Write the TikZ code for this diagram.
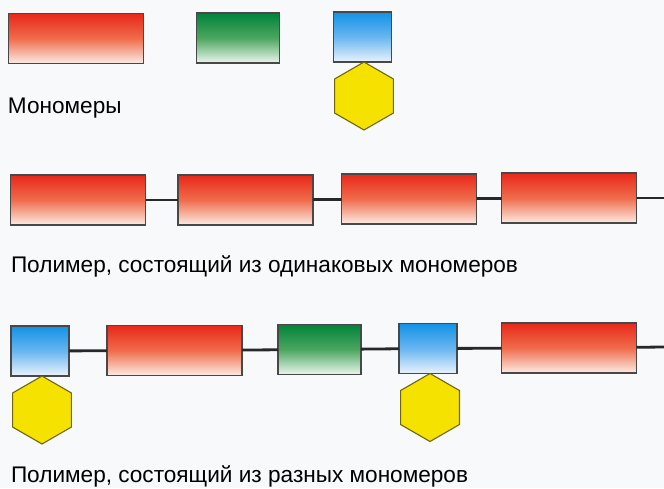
\documentclass[tikz,border=0pt]{standalone}
\usepackage{fontspec}
\setmainfont{Liberation Sans}
\usetikzlibrary{shapes.geometric}
\definecolor{bgcol}{RGB}{247,249,251}
\definecolor{redtop}{RGB}{232,40,26}
\definecolor{redmid}{RGB}{240,108,76}
\definecolor{redbot}{RGB}{252,236,228}
\definecolor{greentop}{RGB}{0,132,58}
\definecolor{greenmid}{RGB}{76,166,96}
\definecolor{greenbot}{RGB}{236,246,238}
\definecolor{bluetop}{RGB}{18,146,230}
\definecolor{bluemid}{RGB}{104,182,240}
\definecolor{bluebot}{RGB}{236,242,252}
\definecolor{hexfill}{RGB}{246,226,0}
\definecolor{hexedge}{RGB}{112,102,12}
\definecolor{edgegray}{RGB}{72,72,72}
\definecolor{chaingray}{RGB}{38,40,42}

\begin{document}
\begin{tikzpicture}[x=1pt,y=-1pt]
\tikzstyle{every node}+=[inner sep=0pt, outer sep=0pt]
\tikzstyle{mono}=[draw=edgegray, line width=1.1pt, minimum height=50pt]
\tikzstyle{redmono}=[mono, top color=redtop, bottom color=redbot, middle color=redmid, minimum width=135pt]
\tikzstyle{greenmono}=[mono, top color=greentop, bottom color=greenbot, middle color=greenmid, minimum width=83pt]
\tikzstyle{bluemono}=[mono, top color=bluetop, bottom color=bluebot, middle color=bluemid, minimum width=58pt]
\tikzstyle{hexmono}=[regular polygon, regular polygon sides=6, shape border rotate=30, draw=hexedge, fill=hexfill, line width=1.1pt, minimum size=68pt, anchor=north]
\tikzstyle{chain}=[draw=chaingray, line width=2.8pt]
\tikzstyle{caption}=[anchor=base west, font=\fontsize{22.6}{26}\selectfont]

\fill [bgcol] (0,0) rectangle (664,488);
\useasboundingbox (0,0) rectangle (664,488);

\node [redmono] (m1) at (76,38.5) {};
\node [greenmono] (m2) at (238,38) {};
\node [bluemono] (m3) at (362.5,37) {};
\node [hexmono] (m4) at ([xshift=1.5pt]m3.south) {};
\node [caption] (t1) at (8,113) {Мономеры};

\node [redmono] (p1) at (78,200) {};
\node [redmono] (p2) at (245.5,200) {};
\node [redmono] (p3) at (409,199) {};
\node [redmono] (p4) at (569,198) {};
\coordinate (p5) at (664,198);
\draw [chain] (p1) -- (p2);
\draw [chain] (p2) -- (p3);
\draw [chain] (p3) -- (p4);
\draw [chain] (p4) -- (p5);
\node [caption] (t2) at (11,272) {Полимер, состоящий из одинаковых мономеров};

\node [bluemono] (q1) at (40,351) {};
\node [hexmono] (q2) at ([xshift=2pt]q1.south) {};
\node [redmono] (q3) at (174.5,350.5) {};
\node [greenmono] (q4) at (319.5,349.5) {};
\node [bluemono] (q5) at (428,348.5) {};
\node [hexmono] (q6) at ([xshift=2pt]q5.south) {};
\node [redmono] (q7) at (569,348) {};
\coordinate (q8) at (664,347);
\draw [chain] (q1) -- (q3);
\draw [chain] (q3) -- (q4);
\draw [chain] (q4) -- (q5);
\draw [chain] (q5) -- (q7);
\draw [chain] (q7) -- (q8);
\node [caption] (t3) at (11,482) {Полимер, состоящий из разных мономеров};
\end{tikzpicture}
\end{document}
